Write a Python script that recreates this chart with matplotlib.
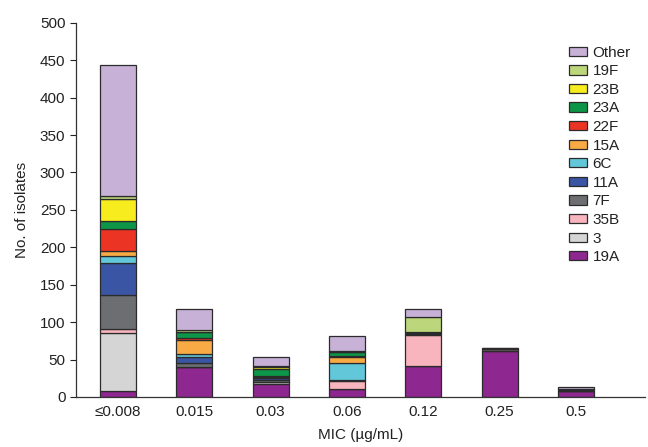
import matplotlib
matplotlib.use('Agg')
import matplotlib.pyplot as plt
import numpy as np

plt.rcParams['font.family'] = ['Liberation Sans', 'DejaVu Sans']

mic_labels = ['\u22640.008', '0.015', '0.03', '0.06', '0.12', '0.25', '0.5']

# serotype counts per MIC category, bottom to top of each stack
serotypes = ['19A', '3', '35B', '7F', '11A', '6C', '15A', '22F', '23A', '23B', '19F', 'Other']
counts = {
    '19A':   [8, 40, 17, 11, 41, 62, 8],
    '3':     [77, 0, 3, 0, 0, 0, 0],
    '35B':   [6, 0, 0, 10, 42, 2, 0],
    '7F':    [45, 6, 3, 1, 1, 0, 1],
    '11A':   [43, 7, 2, 0, 1, 0, 0],
    '6C':    [10, 4, 0, 24, 2, 0, 0],
    '15A':   [6, 19, 1, 8, 0, 0, 0],
    '22F':   [30, 3, 2, 1, 0, 0, 0],
    '23A':   [10, 8, 9, 5, 0, 0, 0],
    '23B':   [30, 0, 3, 0, 0, 0, 0],
    '19F':   [3, 2, 1, 2, 20, 2, 2],
    'Other': [176, 29, 13, 19, 11, 0, 2],
}
colors = {
    '19A': '#8e278f', '3': '#d4d5d4', '35B': '#f8b5bd', '7F': '#6d6e71',
    '11A': '#3a55a4', '6C': '#63c7da', '15A': '#f8ab45', '22F': '#ec3425',
    '23A': '#0e9648', '23B': '#f6ec1e', '19F': '#bcd67c', 'Other': '#c8b1d6',
}

fig = plt.figure(figsize=(6.48, 4.47), dpi=100)
ax = fig.add_axes([0.117, 0.112, 0.878, 0.837])

x = np.arange(len(mic_labels))
bottom = np.zeros(len(mic_labels))
handles = []
for s in serotypes:
    vals = np.array(counts[s])
    b = ax.bar(x, vals, width=0.47, bottom=bottom, color=colors[s],
               edgecolor='#2b2b2b', linewidth=0.9, label=s)
    handles.append(b)
    bottom += vals

ax.set_xlim(-0.55, 6.9)
ax.set_ylim(0, 500)
ax.set_yticks(range(0, 501, 50))
ax.set_xticks(x)
ax.set_xticklabels(mic_labels)
ax.tick_params(axis='x', length=0, pad=6, labelsize=11, colors='#222222')
ax.tick_params(axis='y', length=4, width=0.8, labelsize=11, colors='#222222')
for side in ['top', 'right']:
    ax.spines[side].set_visible(False)
for side in ['left', 'bottom']:
    ax.spines[side].set_color('#333333')
    ax.spines[side].set_linewidth(0.9)

ax.set_ylabel('No. of isolates', fontsize=11, color='#222222', labelpad=8)
ax.set_xlabel('MIC (\u00b5g/mL)', fontsize=11, color='#222222', labelpad=6)

leg = ax.legend(handles[::-1], serotypes[::-1], loc='upper left',
                bbox_to_anchor=(0.856, 0.955), frameon=False, fontsize=11,
                handlelength=1.2, handleheight=0.55, handletextpad=0.35,
                labelspacing=0.3, borderaxespad=0)
for t in leg.get_texts():
    t.set_color('#222222')

fig.savefig('out.png', dpi=100)
